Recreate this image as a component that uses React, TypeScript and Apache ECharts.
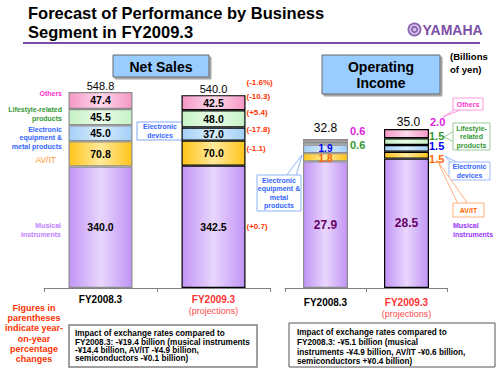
import React, { useEffect, useRef } from "react";
import * as echarts from "echarts";

// ---------- data ----------
const categories = ["FY2008.3", "FY2009.3"];

// Net sales (billions of yen)
const netMusical = [340.0, 342.5];
const netAVIT = [70.8, 70.0];
const netElectronic = [45.0, 37.0];
const netLifestyle = [45.5, 48.0];
const netOthers = [47.4, 42.5];
const netTotals = [548.8, 540.0];

// Year-on-year changes for FY2009.3 (projections)
const yoyMusical = "(+0.7)";
const yoyAVIT = "(-1.1)";
const yoyElectronic = "(-17.8)";
const yoyLifestyle = "(+5.4)";
const yoyOthers = "(-10.3)";
const yoyTotal = "(-1.6%)";

// Operating income (billions of yen)
const oiMusical = [27.9, 28.5];
const oiAVIT = [1.8, 1.5];
const oiElectronic = [1.9, 1.5];
const oiLifestyle = [0.6, 1.5];
const oiOthers = [0.6, 2.0];
const oiTotals = [32.8, 35.0];

// ---------- styles ----------
const FONT = "Arial, 'Liberation Sans', sans-serif";
const grad = (edge: string, mid: string) =>
  new echarts.graphic.LinearGradient(0, 0, 1, 0, [
    { offset: 0, color: edge },
    { offset: 0.5, color: mid },
    { offset: 1, color: edge },
  ]);
const FILL = {
  musical: () => grad("#c294f6", "#e8d6fc"),
  avit: () => grad("#ffc41a", "#ffe99c"),
  elec: () => grad("#a4cff7", "#d8ecfd"),
  life: () => grad("#c4f2c4", "#ecfcea"),
  others: () => grad("#f597c5", "#fdd9eb"),
};
const BORDERS = ["#8c8c8c", "#000000"];

const withBorders = (vals: number[]) =>
  vals.map((v, i) => ({ value: v, itemStyle: { borderColor: BORDERS[i], borderWidth: 1.2 } }));

function netSeries(name: string, vals: number[], fill: any) {
  return {
    name,
    type: "bar",
    xAxisIndex: 0,
    yAxisIndex: 0,
    stack: "net",
    barWidth: 64,
    barGap: "-100%",
    data: withBorders(vals),
    itemStyle: { color: fill },
    label: {
      show: true,
      position: "inside",
      color: "#000",
      fontWeight: "bold",
      fontSize: 10.5,
      fontFamily: FONT,
      formatter: (p: any) => Number(p.value).toFixed(1),
    },
  };
}

function yoySeries(vals: number[], text: string, dy: number) {
  return {
    type: "bar",
    xAxisIndex: 0,
    yAxisIndex: 0,
    stack: "yoy",
    barWidth: 64,
    barGap: "-100%",
    silent: true,
    z: 1,
    data: ["-", vals[1]],
    itemStyle: { color: "rgba(0,0,0,0)", borderWidth: 0 },
    label: {
      show: true,
      position: "right",
      distance: 1,
      offset: [0, dy],
      color: "#ff3300",
      fontWeight: "bold",
      fontSize: 8,
      fontFamily: FONT,
      formatter: () => text,
    },
  };
}

type LblCfg = { pos: string; color: string; dy: number; size?: number; dist?: number };
function oiSeries(name: string, vals: number[], fill: any, labels: LblCfg[]) {
  return {
    name,
    type: "bar",
    xAxisIndex: 1,
    yAxisIndex: 1,
    stack: "oi",
    barWidth: 45,
    data: vals.map((v, i) => ({
      value: v,
      itemStyle: { borderColor: BORDERS[i], borderWidth: 1.2 },
      label: {
        show: true,
        position: labels[i].pos,
        distance: labels[i].dist ?? 1,
        offset: [0, labels[i].dy],
        color: labels[i].color,
        fontWeight: "bold",
        fontSize: labels[i].size ?? 11,
        fontFamily: FONT,
        formatter: (p: any) => Number(p.value).toFixed(1),
      },
    })),
    itemStyle: { color: fill },
  };
}

const txt = (x: number, y: number, text: string, font: string, fill: string, align = "left", lineHeight?: number, vAlign = "middle") => ({
  type: "text",
  x,
  y,
  silent: true,
  style: { text, font, fill, align, verticalAlign: vAlign, lineHeight },
});

const callout = (x: number, y: number, w: number, h: number, stroke: string, text: string, color: string, ptr: number[][], lh = 8.5) => [
  { type: "polyline", shape: { points: ptr }, style: { stroke, fill: "#fff", lineWidth: 1 }, silent: true },
  { type: "rect", shape: { x, y, width: w, height: h }, style: { stroke, fill: "#fff", lineWidth: 1 }, silent: true },
  txt(x + w / 2, y + h / 2, text, `bold 7px ${FONT}`, color, "center", lh),
];

export default function App() {
  const ref = useRef<HTMLDivElement>(null);
  useEffect(() => {
    if (!ref.current) return;
    const chart = echarts.init(ref.current, null, { renderer: "svg" });
    const axisLineStyle = { color: "#808080", width: 1 };
    const rich = {
      blk: { color: "#000", fontWeight: "bold", fontSize: 10, fontFamily: FONT, lineHeight: 12 },
      red: { color: "#ff3333", fontWeight: "bold", fontSize: 10, fontFamily: FONT, lineHeight: 12 },
      proj: { color: "#ff4d4d", fontSize: 9, fontFamily: FONT, lineHeight: 11 },
    };
    const fmt = (v: string) => (v === categories[1] ? `{red|${v}}\n{proj|(projections)}` : `{blk|${v}}`);

    const option: any = {
      animation: false,
      backgroundColor: "#fff",
      grid: [
        { left: 44, top: 73.7, width: 226, height: 214.3 },
        { left: 285, top: 106.4, width: 162, height: 181.6 },
      ],
      xAxis: [
        {
          type: "category",
          gridIndex: 0,
          data: categories,
          axisLine: { lineStyle: axisLineStyle },
          axisTick: { show: true, length: 4, lineStyle: axisLineStyle },
          axisLabel: { interval: 0, hideOverlap: false, margin: 5, formatter: fmt, rich },
        },
        {
          type: "category",
          gridIndex: 1,
          data: categories,
          axisLine: { lineStyle: axisLineStyle },
          axisTick: { show: true, length: 4, lineStyle: axisLineStyle },
          axisLabel: { interval: 0, hideOverlap: false, margin: 8, formatter: fmt, rich },
        },
      ],
      yAxis: [
        { type: "value", gridIndex: 0, min: 0, max: 600, show: false, splitLine: { show: false } },
        { type: "value", gridIndex: 1, min: 0, max: 40, show: false, splitLine: { show: false } },
      ],
      series: [
        netSeries("Musical instruments", netMusical, FILL.musical()),
        netSeries("AV/IT", netAVIT, FILL.avit()),
        netSeries("Electronic", netElectronic, FILL.elec()),
        netSeries("Lifestyle-related products", netLifestyle, FILL.life()),
        netSeries("Others", netOthers, FILL.others()),
        {
          type: "bar",
          xAxisIndex: 0,
          yAxisIndex: 0,
          stack: "net",
          barWidth: 64,
          barGap: "-100%",
          data: [0, 0],
          itemStyle: { color: "rgba(0,0,0,0)" },
          label: {
            show: true,
            position: "top",
            distance: 1,
            color: "#000",
            fontSize: 11,
            fontFamily: FONT,
            formatter: (p: any) => netTotals[p.dataIndex].toFixed(1),
          },
        },
        yoySeries(netMusical, yoyMusical, 0),
        yoySeries(netAVIT, yoyAVIT, -5),
        yoySeries(netElectronic, yoyElectronic, -5),
        yoySeries(netLifestyle, yoyLifestyle, -6),
        yoySeries(netOthers, yoyOthers, -6),
        yoySeries([0, 0], yoyTotal, -13),
        {
          type: "bar",
          xAxisIndex: 1,
          yAxisIndex: 1,
          stack: "oi",
          barWidth: 45,
          data: [
            { value: oiMusical[0], itemStyle: { borderColor: BORDERS[0], borderWidth: 1.2 } },
            { value: oiMusical[1], itemStyle: { borderColor: BORDERS[1], borderWidth: 1.2 } },
          ],
          itemStyle: { color: FILL.musical() },
          label: {
            show: true,
            position: "inside",
            color: "#660066",
            fontWeight: "bold",
            fontSize: 12,
            fontFamily: FONT,
            formatter: (p: any) => Number(p.value).toFixed(1),
          },
        },
        oiSeries("AV/IT", oiAVIT, FILL.avit(), [
          { pos: "inside", color: "#ff6600", dy: 1, size: 10 },
          { pos: "right", color: "#ff6600", dy: 4, dist: 0 },
        ]),
        oiSeries("Electronic", oiElectronic, FILL.elec(), [
          { pos: "inside", color: "#0000ee", dy: 0, size: 10 },
          { pos: "right", color: "#0000ee", dy: -2, dist: 0 },
        ]),
        oiSeries("Lifestyle-related products", oiLifestyle, FILL.life(), [
          { pos: "right", color: "#339933", dy: 2, dist: 2 },
          { pos: "right", color: "#339933", dy: -6, dist: 0 },
        ]),
        oiSeries("Others", oiOthers, FILL.others(), [
          { pos: "right", color: "#dd22dd", dy: -9, dist: 2 },
          { pos: "right", color: "#dd22dd", dy: -12, dist: 1 },
        ]),
        {
          type: "bar",
          xAxisIndex: 1,
          yAxisIndex: 1,
          stack: "oi",
          barWidth: 45,
          data: [
            { value: 0, label: { offset: [0, -4] } },
            { value: 0, label: { offset: [2, 0] } },
          ],
          itemStyle: { color: "rgba(0,0,0,0)" },
          label: {
            show: true,
            position: "top",
            distance: 1,
            color: "#000",
            fontSize: 12,
            fontFamily: FONT,
            formatter: (p: any) => oiTotals[p.dataIndex].toFixed(1),
          },
        },
      ],
      graphic: [
        txt(28, 3.5, "Forecast of Performance by Business\nSegment in FY2009.3", `bold 16.5px ${FONT}`, "#000", "left", 19, "top"),
        { type: "line", shape: { x1: 23, y1: 43, x2: 480, y2: 43 }, style: { stroke: "#7a4fa8", lineWidth: 2 }, silent: true },
        // logo
        { type: "circle", shape: { cx: 414.5, cy: 29.5, r: 7 }, style: { fill: "#8a62b2" }, silent: true },
        { type: "ring", shape: { cx: 414.5, cy: 29.5, r: 5.2, r0: 3.6 }, style: { fill: "#d8c6ea" }, silent: true },
        { type: "circle", shape: { cx: 414.5, cy: 29.5, r: 1.8 }, style: { fill: "#d8c6ea" }, silent: true },
        txt(422.5, 30, "YAMAHA", `bold 14px ${FONT}`, "#7b4fa6"),
        // header boxes
        {
          type: "rect",
          shape: { x: 113, y: 55, width: 96, height: 22 },
          style: { fill: "#99ccff", stroke: "#666", lineWidth: 1, shadowBlur: 1, shadowOffsetX: 2, shadowOffsetY: 2, shadowColor: "rgba(0,0,0,0.35)" },
          silent: true,
        },
        txt(161, 66.5, "Net Sales", `bold 14px ${FONT}`, "#000", "center"),
        {
          type: "rect",
          shape: { x: 322, y: 55, width: 118, height: 39 },
          style: { fill: "#99ccff", stroke: "#666", lineWidth: 1, shadowBlur: 1, shadowOffsetX: 2, shadowOffsetY: 2, shadowColor: "rgba(0,0,0,0.35)" },
          silent: true,
        },
        txt(381, 75, "Operating\nIncome", `bold 14px ${FONT}`, "#000", "center", 16.5),
        txt(450, 62.5, "(Billions\nof yen)", `bold 9.6px ${FONT}`, "#000", "left", 13),
        // net sales left legend
        txt(62, 93, "Others", `bold 7px ${FONT}`, "#ff33cc", "right"),
        txt(62, 113.5, "Lifestyle-related\nproducts", `bold 7px ${FONT}`, "#339933", "right", 9),
        txt(62, 137.5, "Electronic\nequipment &\nmetal products", `bold 7px ${FONT}`, "#3366ff", "right", 8.5),
        txt(56, 159.5, "AV/IT", `8.5px ${FONT}`, "#ff9933", "right"),
        txt(61, 230, "Musical\ninstruments", `bold 7px ${FONT}`, "#c080ff", "right", 8.5),
        // net sales callout
        ...callout(137, 122, 46, 18, "#7fa8f0", "Electronic\ndevices", "#3366ff", [[180, 131], [190, 131], [180, 138]]),
        // OI callouts
        ...callout(257, 175, 44, 36, "#8fb4f5", "Electronic\nequipment &\nmetal\nproducts", "#3366ff", [[286, 176], [302, 155], [296, 176]]),
        ...callout(453, 98, 30, 12, "#ff99dd", "Others", "#ff33cc", [[456, 109], [443, 117], [463, 109]]),
        ...callout(453, 123, 37, 27, "#99cc99", "Lifestyle-\nrelated\nproducts", "#339933", [[454, 131], [444, 137], [454, 142]]),
        ...callout(449, 162, 41, 18, "#99b8ff", "Electronic\ndevices", "#3366ff", [[451, 163], [445, 156], [458, 163]]),
        ...callout(453, 203, 31, 14, "#ffb07a", "AV/IT", "#ff6600", [[458, 204], [437, 160], [468, 204]]),
        txt(453, 230, "Musical\ninstruments", `bold 7px ${FONT}`, "#9933ff", "left", 8.5),
        // footnotes
        txt(34, 333.5, "Figures in\nparentheses\nindicate year-\non-year\npercentage\nchanges", `bold 9px ${FONT}`, "#ff3300", "center", 10.3),
        {
          type: "rect",
          shape: { x: 69, y: 325, width: 188, height: 42 },
          style: { fill: "#fff", stroke: "#808080", lineWidth: 1.5 },
          silent: true,
        },
        txt(75, 329.5, "Impact of exchange rates compared to\nFY2008.3: -¥19.4 billion (musical instruments\n-¥14.4 billion, AV/IT -¥4.9 billion,\nsemiconductors -¥0.1 billion)", `bold 8.2px ${FONT}`, "#000", "left", 8.4, "top"),
        {
          type: "rect",
          shape: { x: 289, y: 323, width: 206, height: 44 },
          style: { fill: "#fff", stroke: "#555", lineWidth: 1 },
          silent: true,
        },
        txt(297, 328, "Impact of exchange rates compared to\nFY2008.3: -¥5.1 billion (musical\ninstruments -¥4.9 billion, AV/IT -¥0.6 billion,\nsemiconductors +¥0.4 billion)", `bold 8.2px ${FONT}`, "#000", "left", 9.7, "top"),
      ],
    };
    chart.setOption(option);
    return () => chart.dispose();
  }, []);
  return <div ref={ref} style={{ position: "absolute", left: 0, top: 0, width: 500, height: 375 }} />;
}
